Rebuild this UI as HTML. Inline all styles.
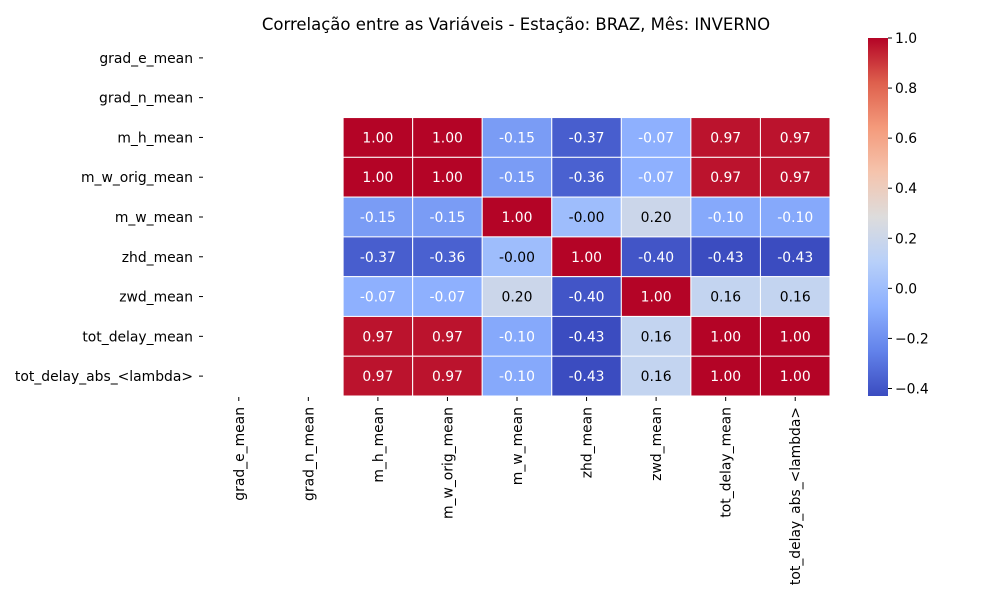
<!DOCTYPE html>
<html><head><meta charset="utf-8"><style>
body{margin:0;background:#fff;font-family:"Liberation Sans","DejaVu Sans",sans-serif;}
</style></head><body>
<svg id="chart" width="1000" height="600" xmlns="http://www.w3.org/2000/svg" font-family="DejaVu Sans, Liberation Sans, sans-serif">
<defs><linearGradient id="cbg" x1="0" y1="1" x2="0" y2="0">
<stop offset="0" stop-color="rgb(59,76,192)"/><stop offset="0.125" stop-color="rgb(98,130,234)"/>
<stop offset="0.25" stop-color="rgb(141,176,254)"/><stop offset="0.375" stop-color="rgb(184,208,249)"/>
<stop offset="0.5" stop-color="rgb(221,220,220)"/><stop offset="0.625" stop-color="rgb(245,196,173)"/>
<stop offset="0.75" stop-color="rgb(244,154,123)"/><stop offset="0.875" stop-color="rgb(222,96,77)"/>
<stop offset="1" stop-color="rgb(180,4,38)"/></linearGradient></defs>
<text x="516" y="30" font-size="16.5" text-anchor="middle">Correlação entre as Variáveis - Estação: BRAZ, Mês: INVERNO</text>
<g id="cells"></g><g id="ylab"></g><g id="xlab"></g>
<rect x="868" y="38" width="20" height="358" fill="url(#cbg)"/>
<g id="cbticks"></g>
</svg>
<script>
const labels=["grad_e_mean","grad_n_mean","m_h_mean","m_w_orig_mean","m_w_mean","zhd_mean","zwd_mean","tot_delay_mean","tot_delay_abs_<lambda>"];
const rowM_h=[null,null,1.00,1.00,-0.15,-0.37,-0.07,0.97,0.97];
const rowM_w_orig=[null,null,1.00,1.00,-0.15,-0.36,-0.07,0.97,0.97];
const rowM_w=[null,null,-0.15,-0.15,1.00,-0.001,0.20,-0.10,-0.10];
const rowZhd=[null,null,-0.37,-0.36,-0.001,1.00,-0.40,-0.43,-0.43];
const rowZwd=[null,null,-0.07,-0.07,0.20,-0.40,1.00,0.16,0.16];
const rowTot=[null,null,0.97,0.97,-0.10,-0.43,0.16,1.00,1.00];
const rowTotAbs=[null,null,0.97,0.97,-0.10,-0.43,0.16,1.00,1.00];
const emptyRow=[null,null,null,null,null,null,null,null,null];
const matrix=[emptyRow,emptyRow,rowM_h,rowM_w_orig,rowM_w,rowZhd,rowZwd,rowTot,rowTotAbs];
const cbTicks=[1.0,0.8,0.6,0.4,0.2,0.0,-0.2,-0.4];
const vmin=-0.43,vmax=1.0;
const X0=204,Y0=38,W=626,H=358,n=labels.length,cw=W/n,ch=H/n;
const xs=i=>X0+i*cw, ys=i=>Y0+i*ch, cy=v=>Y0+(vmax-v)/(vmax-vmin)*H;
const stops=[[59,76,192],[98,130,234],[141,176,254],[184,208,249],[221,220,220],[245,196,173],[244,154,123],[222,96,77],[180,4,38]];
function norm(v){return Math.max(0,Math.min(1,(v-vmin)/(vmax-vmin)));}
function cmap(v){let t=norm(v)*8;let i=Math.min(7,Math.floor(t)),f=t-i;
return stops[i].map((c,k)=>Math.round(c+(stops[i+1][k]-c)*f));}
function fmt(v){return (v<0?'-':'')+Math.abs(v).toFixed(2);}
const NS="http://www.w3.org/2000/svg";
function mk(tag,attrs,parent){const e=document.createElementNS(NS,tag);for(const k in attrs)e.setAttribute(k,attrs[k]);parent.appendChild(e);return e;}
const cells=document.getElementById('cells');
matrix.forEach((row,r)=>row.forEach((v,c)=>{if(v===null)return;
const col=cmap(v);const t0=norm(v);const dark=!(t0>0.28&&t0<0.62);
const rect=mk('rect',{x:xs(c),y:ys(r),width:cw,height:ch,fill:`rgb(${col})`,stroke:'#fff','stroke-width':1},cells);


const t=mk('text',{x:xs(c)+cw/2,y:ys(r)+ch/2+5,'font-size':13.9,'text-anchor':'middle',fill:dark?'#fff':'#000'},cells);
t.textContent=fmt(v);


}));
const yl=document.getElementById('ylab'),xl=document.getElementById('xlab');
labels.forEach((l,i)=>{
mk('line',{x1:X0-5,x2:X0-1,y1:ys(i)+ch/2,y2:ys(i)+ch/2,stroke:'#000'},yl);
const t=mk('text',{x:X0-11,y:ys(i)+ch/2+5,'font-size':13.9,'text-anchor':'end'},yl);t.textContent=l;


const x=xs(i)+cw/2;
mk('line',{x1:x,x2:x,y1:Y0+H+1,y2:Y0+H+5,stroke:'#000'},xl);
const u=mk('text',{x:0,y:0,'font-size':13.9,'text-anchor':'end',transform:`translate(${x+5},${Y0+H+11}) rotate(-90)`},xl);u.textContent=l;


});
const cb=document.getElementById('cbticks');
cbTicks.forEach(v=>{const y=cy(v);
mk('line',{x1:888,x2:892,y1:y,y2:y,stroke:'#000'},cb);
const t=mk('text',{x:895,y:y+5,'font-size':13.9},cb);t.textContent=(v<0?'−':'')+Math.abs(v).toFixed(1);


});
</script>
</body></html>
